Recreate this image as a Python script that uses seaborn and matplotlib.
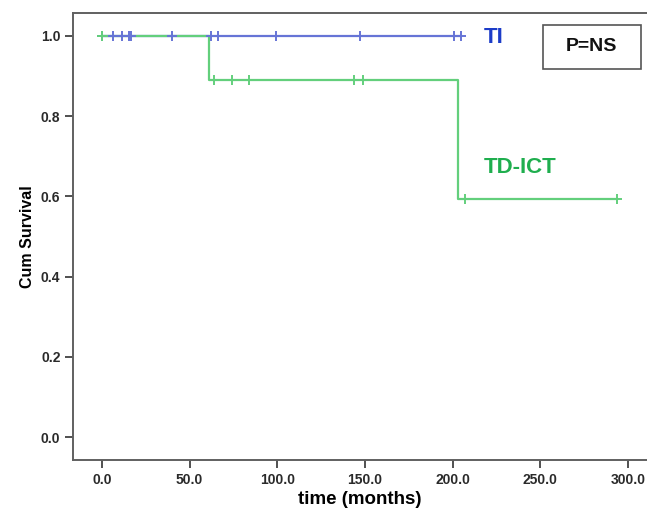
import numpy as np
import pandas as pd
import matplotlib
matplotlib.use("Agg")
import matplotlib.pyplot as plt
from matplotlib.patches import Rectangle
import seaborn as sns

# ── Data (months) ───────────────────────────────────────────────────────────
TI_TIMES = [0.0, 6.3, 11.4, 15.4, 16.6, 40.0, 62.0, 66.0, 99.0, 147.0, 201.0, 205.0]
TI_EVENTS = [0, 0, 0, 0, 0, 0, 0, 0, 0, 0, 0, 0]

TD_TIMES = [0.0, 61.0, 64.0, 74.0, 84.0, 144.0, 149.0, 203.0, 207.0, 294.0]
TD_EVENTS = [0, 1, 0, 0, 0, 0, 0, 1, 0, 0]

GROUP_NAMES = ["TI", "TD-ICT"]
LINE_COLORS = ["#6674d6", "#63cf7c"]
TEXT_COLORS = ["#1c3cc8", "#1fae4e"]

X_TICKS = [0, 50, 100, 150, 200, 250, 300]
Y_TICKS = [0.0, 0.2, 0.4, 0.6, 0.8, 1.0]


def kaplan_meier(times, events):
    df = pd.DataFrame({"t": times, "e": events}).sort_values("t")
    surv = 1.0
    steps = [(0.0, 1.0)]
    censored = []
    for t, grp in df.groupby("t", sort=True):
        at_risk = (df["t"] >= t).sum()
        d = grp["e"].sum()
        if d > 0:
            surv *= 1 - d / at_risk
            steps.append((t, surv))
        for _ in range((grp["e"] == 0).sum()):
            censored.append((t, surv))
    steps.append((df["t"].max(), surv))
    return (pd.DataFrame(steps, columns=["time", "surv"]),
            pd.DataFrame(censored, columns=["time", "surv"]))


plt.rcParams["font.family"] = ["Liberation Sans", "DejaVu Sans"]
fig = plt.figure(figsize=(6.47, 5.11), dpi=100)
ax = fig.add_axes([0.1128, 0.0998, 0.8872, 0.8748])

# blue first, green on top (green line covers blue before the first drop)
for i, (times, events) in enumerate([(TI_TIMES, TI_EVENTS), (TD_TIMES, TD_EVENTS)]):
    col = LINE_COLORS[i]
    steps, cens = kaplan_meier(times, events)
    sns.lineplot(data=steps, x="time", y="surv", ax=ax, color=col,
                 drawstyle="steps-post", linewidth=1.6, estimator=None,
                 sort=False, zorder=2 + i)
    sns.scatterplot(data=cens, x="time", y="surv", ax=ax, color=col,
                    marker="+", s=50, linewidth=1.4, zorder=4 + i)

ax.set_xlim(-16.6, 311)
ax.set_ylim(-0.057, 1.057)
ax.set_xticks(X_TICKS)
ax.set_xticklabels([f"{v:.1f}" for v in X_TICKS])
ax.set_yticks(Y_TICKS)
ax.set_yticklabels([f"{v:.1f}" for v in Y_TICKS])

for side in ["left", "bottom", "top"]:
    ax.spines[side].set_color("#606060")
    ax.spines[side].set_linewidth(1.4)
ax.spines["right"].set_visible(False)
ax.tick_params(direction="out", length=6, width=1.4, color="#505050",
               labelsize=10, labelcolor="#2a2a2a", pad=3)
for lab in ax.get_xticklabels() + ax.get_yticklabels():
    lab.set_fontweight("bold")

ax.set_xlabel("time (months)", fontsize=13.5, fontweight="bold", labelpad=3)
ax.set_ylabel("Cum Survival", fontsize=11.5, fontweight="bold", labelpad=4)

ax.text(217.7, 0.995, GROUP_NAMES[0], color=TEXT_COLORS[0], fontsize=16,
        fontweight="bold", va="center", ha="left")
ax.text(217.7, 0.672, GROUP_NAMES[1], color=TEXT_COLORS[1], fontsize=16,
        fontweight="bold", va="center", ha="left")

ax.add_patch(Rectangle((0.819, 0.875), 0.1705, 0.098, transform=ax.transAxes,
                       facecolor="white", edgecolor="#555555", linewidth=1.2,
                       zorder=6))
ax.text(0.904, 0.924, "P=NS", transform=ax.transAxes, fontsize=14,
        fontweight="bold", ha="center", va="center", color="#111111",
        zorder=7)

fig.savefig("out.png", dpi=100)
